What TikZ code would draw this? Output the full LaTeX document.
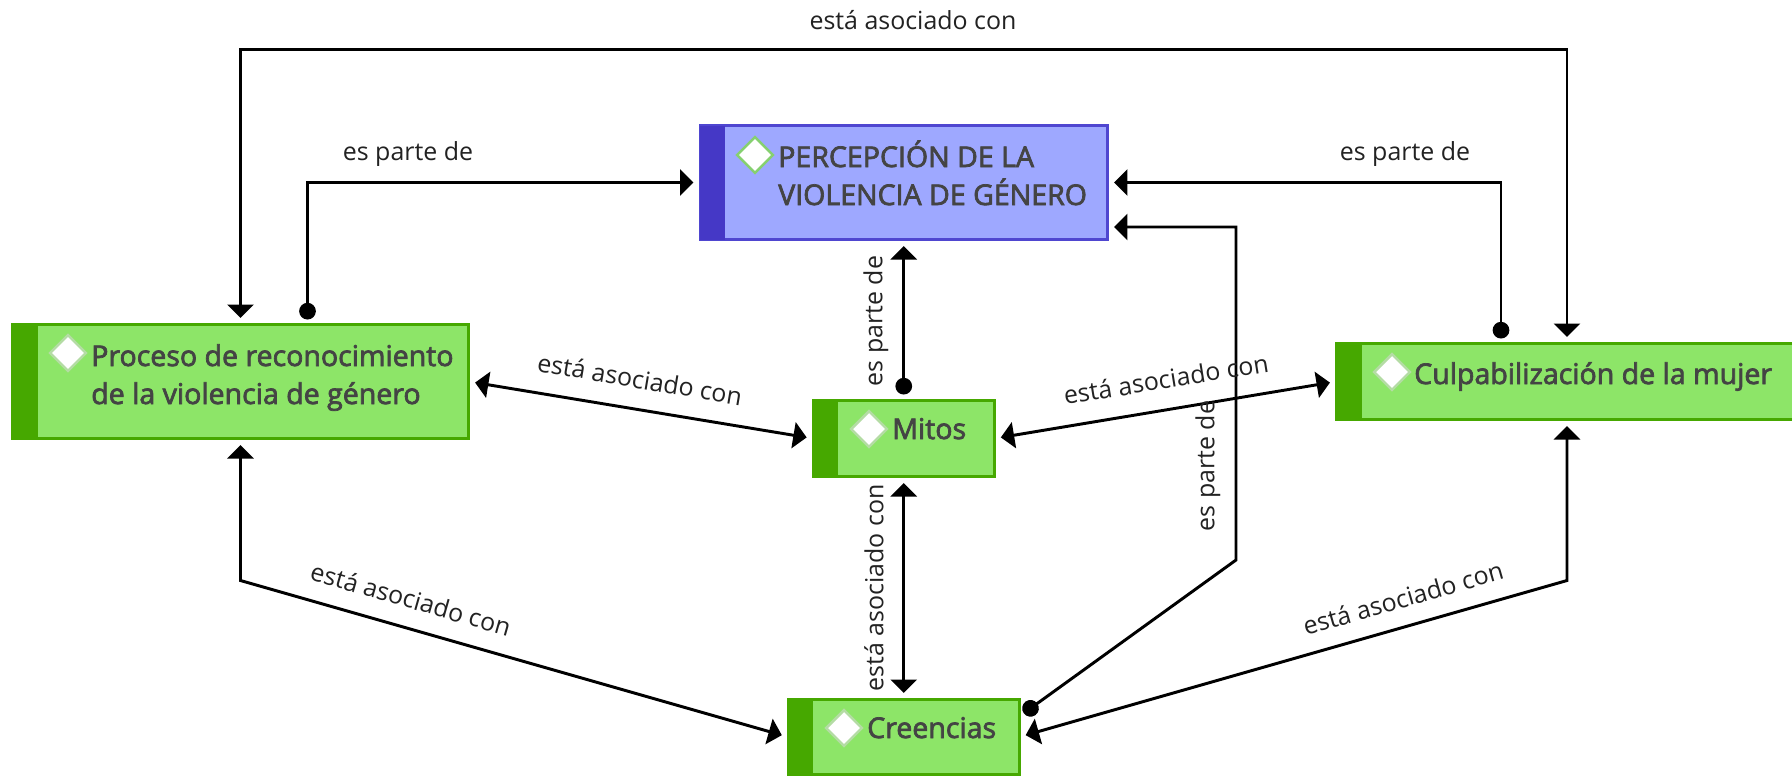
\documentclass[tikz,border=0pt]{standalone}
\usepackage{fontspec}
\setmainfont{Open Sans}
\newfontfamily\boxfont[FakeBold=2.5]{Open Sans}
\usetikzlibrary{arrows.meta,calc,shapes.geometric}
\definecolor{gfill}{HTML}{8DE568}
\definecolor{gdark}{HTML}{46A800}
\definecolor{bfill}{HTML}{9EA8FF}
\definecolor{bdark}{HTML}{4538C6}
\definecolor{bline}{HTML}{4F46D0}
\definecolor{tgrey}{HTML}{444444}
\definecolor{lgrey}{HTML}{222222}
\definecolor{dmg}{HTML}{B4DCA4}
\definecolor{dmb}{HTML}{86D070}
\tikzset{
  gbox/.style={draw=gdark,fill=gfill,line width=2.25pt,inner sep=0pt,outer sep=0pt},
  bbox/.style={draw=bline,fill=bfill,line width=2.25pt,inner sep=0pt,outer sep=0pt},
  gem/.style={diamond,aspect=1,draw=#1,fill=white,line width=1.9pt,inner sep=0pt,minimum width=27.5pt,minimum height=27.5pt},
  btext/.style={anchor=base west,inner sep=0pt,text=tgrey,align=left,font=\boxfont\fontsize{21.4pt}{28.5pt}\selectfont},
  lab/.style={inner sep=0pt,text=lgrey,font=\fontsize{18.7pt}{22pt}\selectfont},
  conn/.style={line width=2.2pt,draw=black},
  tipa/.tip={Triangle[width=19.5pt,length=10pt]},
  tipd/.tip={Circle[length=12.5pt]},
  two/.style={conn,tipa-tipa,shorten >=5pt,shorten <=5pt},
  dot/.style={conn,tipd-tipa,shorten >=5pt},
}
\begin{document}
\begin{tikzpicture}[x=0.75pt,y=-0.75pt]
\useasboundingbox (0,0) rectangle (1792,776);
\fill[white] (0,0) rectangle (1792,776);
% boxes
\node[bbox,minimum width=305.6pt,minimum height=85.5pt] (perc) at (903.75,182.5) {};
\node[gbox,minimum width=342pt,minimum height=85.5pt] (proc) at (240.5,381.5) {};
\node[gbox,minimum width=135.75pt,minimum height=57pt] (mitos) at (903.75,438.5) {};
\node[gbox,minimum width=173.25pt,minimum height=56.25pt] (cree) at (903.75,737) {};
\node[gbox,minimum width=345.75pt,minimum height=57pt] (culp) at (1567,381.5) {};
% stripes
\fill[bdark] (perc.north west) rectangle ($(perc.south west)+(25,0)$);
\foreach \n in {proc,mitos,cree,culp}
  \fill[gdark] (\n.north west) rectangle ($(\n.south west)+(25,0)$);
% gems
\node[gem=dmb] (g1) at (755,155) {};
\node[gem=dmg] (g2) at (68,353) {};
\node[gem=dmg] (g3) at (869,429) {};
\node[gem=dmg] (g4) at (844,728) {};
\node[gem=dmg] (g5) at (1392,372) {};
% box texts
\node[btext] (t1) at (778,205) {PERCEPCIÓN DE LA\\VIOLENCIA DE GÉNERO};
\node[btext] (t2) at (91,404) {Proceso de reconocimiento\\de la violencia de género};
\node[btext] (t3) at (892,439) {Mitos};
\node[btext] (t4) at (867,738) {Creencias};
\node[btext] (t5) at (1414,384) {Culpabilización de la mujer};
% connectors
\coordinate (topl) at ($(proc.north)+(0,-275)$);
\coordinate (bend) at (1236,560);
\draw[two] (proc.north) -- (topl) -| (culp.north);
\draw[dot] ($(proc.north)+(67,-5)$) |- (perc.west);
\draw[dot] ($(culp.north)+(-66,-5)$) |- (perc.east);
\draw[dot] ($(cree.north east)+(4.5,13.7)$) -- (bend) |- ($(perc.east)+(0,44.5)$);
\draw[dot] ($(mitos.north)+(0,-6)$) -- (perc.south);
\draw[two] (proc.east) -- (mitos.west);
\draw[two] (culp.west) -- (mitos.east);
\draw[two] (mitos.south) -- (cree.north);
\draw[two] (proc.south) -- ($(proc.south)+(0,142)$) -- (cree.west);
\draw[two] (culp.south) -- ($(culp.south)+(0,161)$) -- (cree.east);
% labels
\node[lab] (l1) at (913,20) {está asociado con};
\node[lab] (l2) at (408,154) {es parte de};
\node[lab] (l3) at (1405,154) {es parte de};
\node[lab,rotate=90] (l4) at (876,321) {es parte de};
\node[lab,rotate=90] (l5) at (874,588) {está asociado con};
\node[lab,rotate=90] (l6) at (1208,466) {es parte de};
\node[lab,rotate=-9.6] (l7) at (640,379) {está asociado con};
\node[lab,rotate=9.2] (l8) at (1166,379) {está asociado con};
\node[lab,rotate=-16] (l9) at (411,599) {está asociado con};
\node[lab,rotate=16] (l10) at (1403,598) {está asociado con};
\end{tikzpicture}
\end{document}
